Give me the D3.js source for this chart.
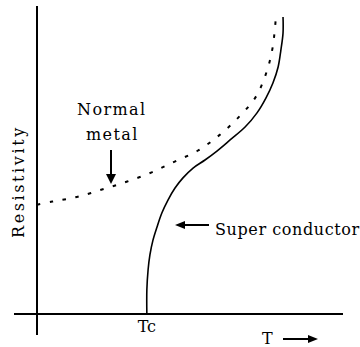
<!DOCTYPE html>
<html>
<head>
<meta charset="utf-8">
<script src="https://cdn.jsdelivr.net/npm/d3@7"></script>
<style>
  html, body { margin: 0; padding: 0; background: #fff; }
  svg { display: block; }
</style>
</head>
<body>
<script>
// Resistivity versus temperature, arbitrary units (0..10 on both axes)
const normalT   = [0.0, 0.5, 1.3, 2.15, 2.95, 3.75, 4.5, 5.25, 5.95, 6.6, 7.15, 7.5, 7.7, 7.8];
const normalRho = [3.55, 3.65, 3.8, 4.05, 4.3, 4.6, 4.95, 5.3, 5.8, 6.4, 7.05, 7.85, 8.65, 9.55];

const superT   = [3.59, 3.59, 3.63, 3.69, 3.79, 3.92, 4.08, 4.28, 4.51, 4.77, 5.10, 5.49, 5.88, 6.31, 6.80, 7.19, 7.48, 7.71, 7.88, 7.97, 8.04, 8.04];
const superRho = [0.0, 0.78, 1.43, 1.92, 2.40, 2.82, 3.28, 3.70, 4.09, 4.42, 4.74, 5.00, 5.29, 5.65, 6.07, 6.53, 7.01, 7.50, 8.02, 8.57, 9.12, 9.64];

const tcValue = 3.59;
const labels = { yAxis: "Resistivity", xAxis: "T", tc: "Tc", normal: ["Normal", "metal"], superc: "Super conductor" };

const W = 360, H = 347;
const serif = "DejaVu Serif";
const x = d3.scaleLinear().domain([0, 10]).range([37, 343]);
const y = d3.scaleLinear().domain([0, 10]).range([314, 6]);

const svg = d3.select("body").append("svg")
  .attr("width", W).attr("height", H);

// axes: plain crossing lines, no ticks
svg.append("line")
  .attr("x1", x(0)).attr("x2", x(0))
  .attr("y1", y(10)).attr("y2", y(0) + 21)
  .attr("stroke", "#000").attr("stroke-width", 2);
svg.append("line")
  .attr("x1", x(0) - 23).attr("x2", x(10))
  .attr("y1", y(0)).attr("y2", y(0))
  .attr("stroke", "#000").attr("stroke-width", 2);

const line = d3.line()
  .x(d => x(d[0]))
  .y(d => y(d[1]))
  .curve(d3.curveCatmullRom.alpha(0.5));

// normal metal: dotted
svg.append("path")
  .datum(d3.zip(normalT, normalRho))
  .attr("d", line)
  .attr("fill", "none")
  .attr("stroke", "#000")
  .attr("stroke-width", 2)
  .attr("stroke-dasharray", "3.5,9.5");

// superconductor: solid
svg.append("path")
  .datum(d3.zip(superT, superRho))
  .attr("d", line)
  .attr("fill", "none")
  .attr("stroke", "#000")
  .attr("stroke-width", 1.6);

function arrow(x1, y1, x2, y2, head, half) {
  const ang = Math.atan2(y2 - y1, x2 - x1);
  const bx = x2 - head * Math.cos(ang), by = y2 - head * Math.sin(ang);
  svg.append("line")
    .attr("x1", x1).attr("y1", y1).attr("x2", bx).attr("y2", by)
    .attr("stroke", "#000").attr("stroke-width", 2);
  const px = -Math.sin(ang) * half, py = Math.cos(ang) * half;
  svg.append("path")
    .attr("d", `M${x2},${y2}L${bx + px},${by + py}L${bx - px},${by - py}Z`)
    .attr("fill", "#000");
}

function label(txt, size, spacing) {
  return svg.append("text")
    .style("font-family", serif)
    .attr("font-size", size)
    .attr("letter-spacing", spacing)
    .attr("fill", "#000")
    .text(txt);
}

// y-axis title
label(labels.yAxis, 16, 2.6).attr("transform", "translate(24,238) rotate(-90)");

// "Normal metal" with arrow
label(labels.normal[0], 16, 1.4).attr("x", 77).attr("y", 115);
label(labels.normal[1], 16, 1.4).attr("x", 86).attr("y", 140);
arrow(111, 150, 111, 184, 10, 5);

// "Super conductor" with arrow
arrow(209, 225, 175, 225, 10, 4);
label(labels.superc, 16, 0.6).attr("x", 215).attr("y", 235);

// Tc under the transition
label(labels.tc, 16, 0).attr("x", x(tcValue)).attr("y", 332).attr("text-anchor", "middle");

// T with arrow
label(labels.xAxis, 16, 0).attr("x", 262).attr("y", 344);
arrow(283, 339, 318, 339, 10, 4);
</script>
</body>
</html>
